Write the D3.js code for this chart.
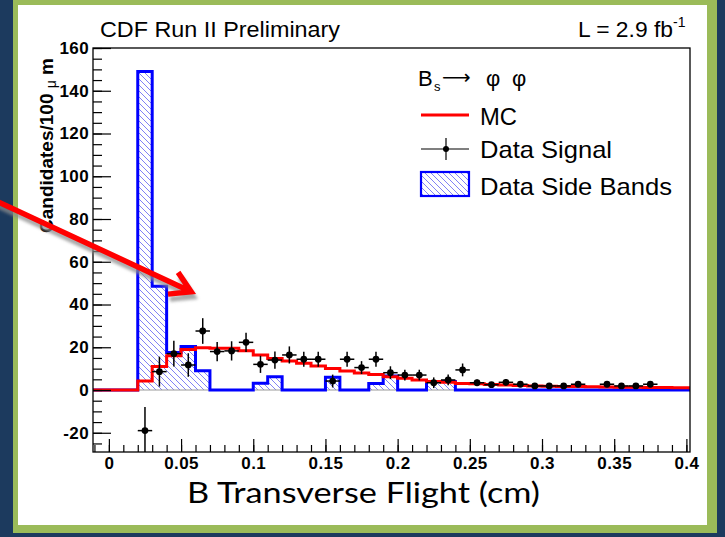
<!DOCTYPE html>
<html>
<head>
<meta charset="utf-8">
<script src="https://cdn.jsdelivr.net/npm/d3@7"></script>
<style>
  html, body { margin: 0; padding: 0; background: #1c3a5e; }
  svg { display: block; }
</style>
</head>
<body>
<svg id="chart" width="725" height="537"></svg>
<script>
// ---- data: 100 μm bins of B transverse flight (cm), low edges from -0.01 ----
const binWidth = 0.01;
const binLow = d3.range(41).map(i => +(-0.01 + i * binWidth).toFixed(3));

// Data side bands (blue, hatched), one value per bin
const sideBands = [0, 0, 0, 149, 48.5, 17.5, 20.3, 9, 0, 0,
                   0, 3.2, 6.2, 0, 0, 0, 6, 0, 0, 3,
                   6.5, 0, 0, 4, 4, 0, 0, 0, 0, 0,
                   0, 0, 0, 0, 0, 0, 0, 0, 0, 0, 0];

// MC expectation (red), one value per bin
const mcValues = [0, 0, 0, 4.2, 11, 16, 19, 19.8, 19.5, 19.5,
                  18.4, 16.4, 14.8, 13.6, 12.5, 11.2, 10.1, 8.9, 8.0, 7.3,
                  6.2, 5.5, 4.7, 4.0, 3.6, 3.1, 2.9, 2.6, 2.3, 2.1,
                  1.9, 1.8, 1.7, 1.6, 1.5, 1.4, 1.35, 1.3, 1.2, 1.15, 1.1];

// Data signal (sideband subtracted): bin centres, values, errors
const signalX   = [0.025, 0.035, 0.045, 0.055, 0.065, 0.075, 0.085, 0.095, 0.105, 0.115,
                   0.125, 0.135, 0.145, 0.155, 0.165, 0.175, 0.185, 0.195, 0.205, 0.215,
                   0.225, 0.235, 0.245, 0.255, 0.265, 0.275, 0.285, 0.295, 0.305, 0.315,
                   0.325, 0.345, 0.355, 0.365, 0.375];
const signalY   = [-19, 8.6, 17, 11.7, 27.6, 18, 18.3, 22.3, 12, 14,
                   16.4, 14.4, 14.4, 4.2, 14.4, 10.5, 14.4, 8.1, 7, 7,
                   3.4, 4.7, 9.4, 3.4, 2.5, 3.6, 2.7, 1.9, 1.9, 1.9,
                   2.7, 2.7, 1.9, 1.9, 2.7];
const signalErr = [11, 7, 6, 5.5, 6, 4.5, 4.5, 4.5, 4, 4,
                   4, 3.5, 3.5, 3, 3.5, 3, 3.5, 3, 2.5, 2.5,
                   2.5, 2.5, 3, 1.5, 1.2, 1.5, 1.2, 1, 1, 1,
                   1.2, 1.2, 1, 1, 1.2];

// Axis ticks
const xMajorTicks = [0, 0.05, 0.1, 0.15, 0.2, 0.25, 0.3, 0.35, 0.4];
const xMinorTicks = d3.range(-1, 41).map(i => +(i * 0.01).toFixed(3));
const yMajorTicks = [-20, 0, 20, 40, 60, 80, 100, 120, 140, 160];
const yMinorTicks = d3.range(-25, 161, 5);

// ---- drawing ----
const W = 725, H = 537;
const svg = d3.select('#chart');
const defs = svg.append('defs');

// slide background: navy, green border, white panel
svg.append('rect').attr('width', W).attr('height', H).attr('fill', '#1c3a5e');
svg.append('rect').attr('x', 13).attr('y', -10).attr('width', 704).attr('height', 543).attr('fill', '#9bbb59');
svg.append('rect').attr('x', 18).attr('y', 5).attr('width', 689).attr('height', 520).attr('fill', '#ffffff');

const x = d3.scaleLinear().domain([-0.011, 0.4025]).range([93, 690]);
const y = d3.scaleLinear().domain([-29, 160]).range([452, 48]);

// hatch pattern for the side-band fill
const hatch = defs.append('pattern')
  .attr('id', 'hatch').attr('patternUnits', 'userSpaceOnUse')
  .attr('width', 6).attr('height', 6);
hatch.append('path')
  .attr('d', 'M-1,-1 L7,7 M-1,5 L1,7 M5,-1 L7,1')
  .attr('stroke', '#6262f2').attr('stroke-width', 0.8).attr('fill', 'none');

defs.append('clipPath').attr('id', 'plotClip')
  .append('rect').attr('x', x.range()[0]).attr('y', y.range()[1])
  .attr('width', x.range()[1] - x.range()[0]).attr('height', y.range()[0] - y.range()[1]);

// step points: one per bin edge, outer edges clamped to the axis range
function stepPoints(vals) {
  const [d0, d1] = x.domain();
  const pts = vals.map((v, i) => ({ e: i === 0 ? d0 : binLow[i], v }));
  pts.push({ e: d1, v: vals[vals.length - 1] });
  return pts;
}

const plot = svg.append('g').attr('clip-path', 'url(#plotClip)');

// side bands: hatched area
const sbPts = stepPoints(sideBands);
plot.append('path')
  .attr('d', d3.area().curve(d3.curveStepAfter)
    .x(d => x(d.e)).y0(y(0)).y1(d => y(d.v))(sbPts))
  .attr('fill', 'url(#hatch)').attr('stroke', 'none');
plot.append('line')
  .attr('x1', x.range()[0]).attr('x2', x.range()[1])
  .attr('y1', y(0)).attr('y2', y(0))
  .attr('stroke', '#9a9a9a').attr('stroke-width', 1);
// side bands outline
plot.append('path')
  .attr('d', d3.line().curve(d3.curveStepAfter).x(d => x(d.e)).y(d => y(d.v))(sbPts))
  .attr('fill', 'none').attr('stroke', '#0000ff').attr('stroke-width', 3);

// MC histogram
plot.append('path')
  .attr('d', d3.line().curve(d3.curveStepAfter).x(d => x(d.e)).y(d => y(d.v))(stepPoints(mcValues)))
  .attr('fill', 'none').attr('stroke', '#ff0000').attr('stroke-width', 3);

// data signal points with error bars
const sig = signalX.map((cx, i) => ({ cx, v: signalY[i], err: signalErr[i] }));
const pts = plot.append('g').selectAll('g').data(sig).join('g');
pts.append('line')
  .attr('x1', d => x(d.cx - binWidth / 2)).attr('x2', d => x(d.cx + binWidth / 2))
  .attr('y1', d => y(d.v)).attr('y2', d => y(d.v))
  .attr('stroke', '#000').attr('stroke-width', 1.5);
pts.append('line')
  .attr('x1', d => x(d.cx)).attr('x2', d => x(d.cx))
  .attr('y1', d => y(d.v - d.err)).attr('y2', d => y(d.v + d.err))
  .attr('stroke', '#000').attr('stroke-width', 1.5);
pts.append('circle')
  .attr('cx', d => x(d.cx)).attr('cy', d => y(d.v)).attr('r', 3.4)
  .attr('fill', '#000');

// axes (ticks point inward)
const fmt = d => String(d);
const axisFont = '"Liberation Sans", Arial, Helvetica, sans-serif';

const gx = svg.append('g').attr('transform', `translate(0,${y.range()[0]})`);
gx.call(d3.axisBottom(x).tickValues(xMinorTicks).tickSize(-7).tickSizeOuter(0).tickFormat(''));
gx.call(g => g.select('.domain').remove());
const gxMaj = svg.append('g').attr('transform', `translate(0,${y.range()[0]})`)
  .call(d3.axisBottom(x).tickValues(xMajorTicks).tickSize(-13).tickSizeOuter(0).tickPadding(4.5).tickFormat(fmt));
gxMaj.select('.domain').remove();
gxMaj.selectAll('text').attr('font-family', axisFont).attr('font-weight', 'bold')
  .attr('font-size', 17).attr('fill', '#000').attr('letter-spacing', 0.4);

const gy = svg.append('g').attr('transform', `translate(${x.range()[0]},0)`);
gy.call(d3.axisLeft(y).tickValues(yMinorTicks).tickSize(-9).tickSizeOuter(0).tickFormat(''));
gy.call(g => g.select('.domain').remove());
const gyMaj = svg.append('g').attr('transform', `translate(${x.range()[0]},0)`)
  .call(d3.axisLeft(y).tickValues(yMajorTicks).tickSize(-18).tickSizeOuter(0).tickPadding(4).tickFormat(fmt));
gyMaj.select('.domain').remove();
gyMaj.selectAll('text').attr('font-family', axisFont).attr('font-weight', 'bold')
  .attr('font-size', 17).attr('fill', '#000').attr('letter-spacing', 0.4);
svg.selectAll('.tick line').attr('stroke', '#000').attr('stroke-width', 1.2);

// frame
svg.append('rect')
  .attr('x', x.range()[0]).attr('y', y.range()[1])
  .attr('width', x.range()[1] - x.range()[0]).attr('height', y.range()[0] - y.range()[1])
  .attr('fill', 'none').attr('stroke', '#000').attr('stroke-width', 1.3);

// titles
svg.append('text').attr('x', 100).attr('y', 37)
  .attr('font-family', axisFont).attr('font-size', 22)
  .attr('textLength', 240).attr('lengthAdjust', 'spacingAndGlyphs')
  .text('CDF Run II Preliminary');
const lumi = svg.append('text').attr('x', 578).attr('y', 37)
  .attr('font-family', axisFont).attr('font-size', 22);
lumi.append('tspan').attr('textLength', 95).attr('lengthAdjust', 'spacingAndGlyphs').text('L = 2.9 fb');
lumi.append('tspan').attr('dy', -10).attr('font-size', 14).text('-1');

// y axis title
const yt = svg.append('text')
  .attr('transform', 'translate(53,58) rotate(-90)')
  .attr('text-anchor', 'end')
  .attr('font-family', axisFont).attr('font-weight', 'bold').attr('font-size', 19);
yt.append('tspan').text('Candidates/100 ');
yt.append('tspan').attr('font-size', 14).attr('font-weight', 'normal').attr('dy', 3).text('μ');
yt.append('tspan').attr('dy', -3).text(' m');

// x axis title
svg.append('text').attr('x', 187).attr('y', 503)
  .attr('font-family', 'Lato, "Open Sans", sans-serif').attr('font-size', 29)
  .attr('textLength', 353).attr('lengthAdjust', 'spacingAndGlyphs')
  .text('B Transverse Flight (cm)');

// legend
const lg = svg.append('g').attr('font-family', axisFont).attr('fill', '#000');
lg.append('text').attr('x', 418).attr('y', 86).attr('font-size', 22).text('B');
lg.append('text').attr('x', 434).attr('y', 91).attr('font-size', 13).text('s');
lg.append('text').attr('x', 442).attr('y', 84).attr('font-size', 20)
  .attr('font-family', '"DejaVu Sans", sans-serif').text('⟶');
lg.append('text').attr('x', 486).attr('y', 86).attr('font-size', 22).text('φ');
lg.append('text').attr('x', 512).attr('y', 86).attr('font-size', 22).text('φ');

lg.append('line').attr('x1', 421).attr('x2', 469).attr('y1', 115).attr('y2', 115)
  .attr('stroke', '#ff0000').attr('stroke-width', 3);
lg.append('text').attr('x', 480).attr('y', 125).attr('font-size', 24)
  .attr('textLength', 37).attr('lengthAdjust', 'spacingAndGlyphs').text('MC');

lg.append('line').attr('x1', 421).attr('x2', 469).attr('y1', 149).attr('y2', 149)
  .attr('stroke', '#000').attr('stroke-width', 1.2);
lg.append('line').attr('x1', 446).attr('x2', 446).attr('y1', 138).attr('y2', 160)
  .attr('stroke', '#000').attr('stroke-width', 1.2);
lg.append('circle').attr('cx', 446).attr('cy', 149).attr('r', 3);
lg.append('text').attr('x', 480).attr('y', 158).attr('font-size', 24)
  .attr('textLength', 132).attr('lengthAdjust', 'spacingAndGlyphs').text('Data Signal');

lg.append('rect').attr('x', 421).attr('y', 172).attr('width', 48).attr('height', 24)
  .attr('fill', 'url(#hatch)').attr('stroke', '#0000ff').attr('stroke-width', 2.2);
lg.append('text').attr('x', 480).attr('y', 195).attr('font-size', 24)
  .attr('textLength', 192).attr('lengthAdjust', 'spacingAndGlyphs').text('Data Side Bands');

// annotation arrow pointing at the low-flight region
const arrowFrom = { cx: -0.0895, v: 92 };
const arrowTo = { cx: 0.057, v: 46 };
const ax0 = x(arrowFrom.cx), ay0 = y(arrowFrom.v), ax1 = x(arrowTo.cx), ay1 = y(arrowTo.v);
const ang = Math.atan2(ay1 - ay0, ax1 - ax0);
const ux = -Math.cos(ang), uy = -Math.sin(ang), nx = -Math.sin(ang), ny = Math.cos(ang);
const wing1 = [ax1 + 20 * ux + 12 * nx, ay1 + 20 * uy + 12 * ny];
const wing2 = [ax1 + 20 * ux - 12 * nx, ay1 + 20 * uy - 12 * ny];
const arrowPath = `M${ax0},${ay0} L${ax1},${ay1} M${wing1[0]},${wing1[1]} L${ax1},${ay1} L${wing2[0]},${wing2[1]}`;

const blur = defs.append('filter').attr('id', 'soft').attr('x', '-20%').attr('y', '-20%')
  .attr('width', '140%').attr('height', '140%');
blur.append('feGaussianBlur').attr('stdDeviation', 1.6);

svg.append('path').attr('d', arrowPath)
  .attr('transform', 'translate(2,5)')
  .attr('fill', 'none').attr('stroke', '#8c8c8c').attr('stroke-opacity', 0.75)
  .attr('stroke-width', 5.5).attr('stroke-linejoin', 'miter').attr('filter', 'url(#soft)');
svg.append('path').attr('d', arrowPath)
  .attr('fill', 'none').attr('stroke', '#ff0000')
  .attr('stroke-width', 5.5).attr('stroke-linejoin', 'miter');
</script>
</body>
</html>
